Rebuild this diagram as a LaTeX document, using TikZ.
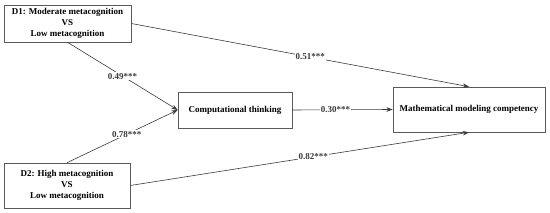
\documentclass[tikz,border=0pt]{standalone}
\usepackage{fontspec}
\setmainfont{Liberation Serif}
\usepackage{tikz}
\usetikzlibrary{
  arrows.meta,
  positioning,
  calc
}
\definecolor{mmLine}{HTML}{3A3A3A}
\definecolor{mmBox}{HTML}{5A5A5A}
\tikzset{
  mmnode/.style={
    draw=mmBox, semithick, font=\fontsize{9}{11}\selectfont\bfseries,
    align=center, inner sep=2pt
  },
  group/.style={mmnode, minimum width=127pt},
  var/.style={mmnode},
  path/.style={-{Stealth[length=2.2mm, width=1.6mm]}, semithick, mmLine},
  coef/.style={font=\fontsize{9}{11}\selectfont\bfseries, fill=white, inner sep=1pt}
}

\begin{document}
\begin{tikzpicture}[x=1pt, y=-1pt]
  \useasboundingbox (0,0) rectangle (550,213);
  % groups (dummy coded)
  \node[group, minimum height=37pt] (d1) at (67.5, 23.5) {D1: Moderate metacognition\\VS\\Low metacognition};
  \node[group, minimum height=45pt, minimum width=126pt] (d2) at (67, 185.5) {D2: High metacognition\\VS\\Low metacognition};
  % mediator and outcome
  \node[var, minimum width=114pt, minimum height=36pt] (ct) at (235, 110) {Computational thinking};
  \node[var, minimum width=152pt, minimum height=45pt] (mm) at (469, 109.5) {Mathematical modeling competency};

  \draw[path] (d1.south) -- node[coef, pos=0.5] {0.49***} (ct.west);
  \draw[path] (d2.north) -- node[coef, pos=0.54] {0.78***} (ct.west);
  \draw[path] (ct.east) -- node[coef, pos=0.43] {0.30***} (mm.west);
  \draw[path] (d1.east) -- node[coef, pos=0.53] {0.51***} (mm.north);
  \draw[path] (d2.east) -- node[coef, pos=0.54] {0.82***} (mm.south);
\end{tikzpicture}
\end{document}
